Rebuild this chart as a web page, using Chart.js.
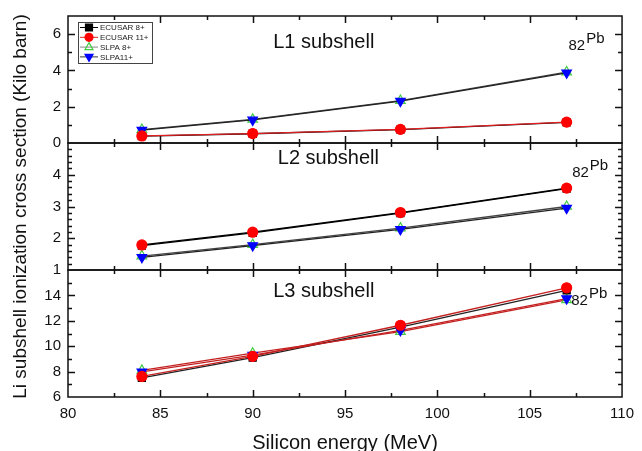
<!DOCTYPE html>
<html><head><meta charset="utf-8">
<script src="https://cdn.jsdelivr.net/npm/chart.js@4/dist/chart.umd.min.js"></script>
<style>html,body{margin:0;padding:0;background:#fff}#wrap{width:642px;height:451px}</style>
</head><body><div id="wrap"><canvas id="c" width="642" height="451"></canvas></div>
<script>
// ---------- data ----------
const energies = [84, 90, 98, 107];
const seriesNames = ['ECUSAR 8+', 'ECUSAR 11+', 'SLPA 8+', 'SLPA11+'];
const panelTitles = ['L1 subshell', 'L2 subshell', 'L3 subshell'];
const elementLabel = ['82', 'Pb'];
const xTickValues = [80, 85, 90, 95, 100, 105, 110];
const l1TickValues = [0, 2, 4, 6];
const l2TickValues = [1, 2, 3, 4];
const l3TickValues = [6, 8, 10, 12, 14];

const l1Ecusar8  = [0.38, 0.51, 0.74, 1.14];
const l1Ecusar11 = [0.39, 0.52, 0.75, 1.15];
const l1Slpa8    = [0.74, 1.30, 2.34, 3.91];
const l1Slpa11   = [0.71, 1.27, 2.31, 3.87];

const l2Ecusar8  = [1.77, 2.17, 2.79, 3.56];
const l2Ecusar11 = [1.79, 2.19, 2.81, 3.58];
const l2Slpa8    = [1.44, 1.80, 2.32, 3.00];
const l2Slpa11   = [1.40, 1.77, 2.28, 2.95];

const l3Ecusar8  = [7.50, 9.10, 11.50, 14.40];
const l3Ecusar11 = [7.62, 9.20, 11.65, 14.60];
const l3Slpa8    = [8.10, 9.45, 11.15, 13.65];
const l3Slpa11   = [7.98, 9.30, 11.25, 13.75];

// ---------- styling ----------
const FONT = "'Liberation Sans', Arial, sans-serif";
const INK = '#111';
const panels = [
  {axis: 'y1', min: 0, max: 7, ticks: l1TickValues, minor: 1, series: [l1Ecusar8, l1Ecusar11, l1Slpa8, l1Slpa11],
   lines: ['#000', '#e02020', '#444', '#222'], title: [93.85, 5.55], elem: [107.1, 5.37]},
  {axis: 'y2', min: 1, max: 5, ticks: l2TickValues, minor: 0.2, series: [l2Ecusar8, l2Ecusar11, l2Slpa8, l2Slpa11],
   lines: ['#000', '#000', '#444', '#222'], title: [94.1, 4.52], elem: [107.3, 4.05]},
  {axis: 'y3', min: 6, max: 16, ticks: l3TickValues, minor: 1, series: [l3Ecusar8, l3Ecusar11, l3Slpa8, l3Slpa11],
   lines: ['#222', '#c42020', '#c42020', '#c42020'], title: [93.85, 14.3], elem: [107.25, 13.6]}
];
const markerStyles = [
  {pointStyle: 'rect', radius: 5, bg: '#000', border: '#000', rot: 0, order: 2},
  {pointStyle: 'circle', radius: 5, bg: '#ff0000', border: '#ff0000', rot: 0, order: 0},
  {pointStyle: 'triangle', radius: 5.5, bg: 'rgba(255,255,255,0)', border: '#44cc44', rot: 0, order: 3},
  {pointStyle: 'triangle', radius: 5.5, bg: '#0000ff', border: '#0000ff', rot: 180, order: 1}
];

const datasets = [];
panels.forEach(p => {
  p.series.forEach((vals, i) => {
    const m = markerStyles[i];
    datasets.push({
      label: seriesNames[i],
      data: energies.map((x, k) => ({x: x, y: vals[k]})),
      yAxisID: p.axis,
      xAxisID: 'x',
      borderColor: p.lines[i],
      borderWidth: 1.3,
      pointStyle: m.pointStyle,
      pointRadius: m.radius,
      pointRotation: m.rot,
      pointBackgroundColor: m.bg,
      pointBorderColor: m.border,
      pointBorderWidth: 1.2,
      order: m.order,
      tension: 0,
      fill: false
    });
  });
});

function yScale(p, extra) {
  return Object.assign({
    type: 'linear', position: 'left', stack: 'panels', stackWeight: 1,
    min: p.min, max: p.max,
    afterBuildTicks: s => { s.ticks = p.ticks.map(v => ({value: v})); },
    afterFit: s => { s.width = 68; },
    grid: {display: false, drawTicks: false},
    border: {display: false},
    ticks: {padding: 7, color: INK, autoSkip: false, font: {size: 15, family: FONT}}
  }, extra || {});
}

// ---------- frame, ticks and annotations ----------
const framePlugin = {
  id: 'frame',
  beforeDatasetsDraw(chart) {
    const ctx = chart.ctx, xs = chart.scales.x, area = chart.chartArea;
    ctx.save();
    ctx.strokeStyle = INK;
    ctx.lineWidth = 1.5;
    panels.forEach(p => {
      const s = chart.scales[p.axis];
      const top = s.getPixelForValue(p.max), bottom = s.getPixelForValue(p.min);
      ctx.strokeRect(area.left, top, area.right - area.left, bottom - top);
      ctx.beginPath();
      const n = Math.round((p.max - p.min) / p.minor);
      for (let k = 1; k < n; k++) {
        const v = p.min + k * p.minor;
        const major = p.ticks.some(t => Math.abs(t - v) < 1e-6);
        const len = major ? 7 : 4;
        const y = Math.round(s.getPixelForValue(v)) + 0.5;
        ctx.moveTo(area.left, y); ctx.lineTo(area.left + len, y);
        ctx.moveTo(area.right, y); ctx.lineTo(area.right - len, y);
      }
      for (let k = 1; k < 12; k++) {
        const v = 80 + k * 2.5;
        const len = (k % 2 === 0) ? 7 : 4;
        const x = Math.round(xs.getPixelForValue(v)) + 0.5;
        ctx.moveTo(x, top); ctx.lineTo(x, top + len);
        ctx.moveTo(x, bottom); ctx.lineTo(x, bottom - len);
      }
      ctx.stroke();
    });
    ctx.restore();
  },
  afterDatasetsDraw(chart) {
    const ctx = chart.ctx, xs = chart.scales.x, area = chart.chartArea;
    ctx.save();
    ctx.fillStyle = INK;
    ctx.textBaseline = 'middle';
    panels.forEach((p, i) => {
      const s = chart.scales[p.axis];
      ctx.font = '20px ' + FONT;
      ctx.textAlign = 'center';
      ctx.fillText(panelTitles[i], xs.getPixelForValue(p.title[0]), s.getPixelForValue(p.title[1]));
      ctx.font = '15px ' + FONT;
      ctx.textAlign = 'left';
      const ex = xs.getPixelForValue(p.elem[0]), ey = s.getPixelForValue(p.elem[1]);
      ctx.fillText(elementLabel[0], ex, ey);
      const w = ctx.measureText(elementLabel[0]).width;
      ctx.fillText(elementLabel[1], ex + w + 1, ey - 7);
    });
    // legend box
    const lx = area.left + 10, ly = area.top + 6, lw = 74, lh = 41;
    ctx.fillStyle = '#fff';
    ctx.fillRect(lx, ly, lw, lh);
    ctx.strokeStyle = '#444';
    ctx.lineWidth = 1;
    ctx.strokeRect(lx + 0.5, ly + 0.5, lw, lh);
    const legendLines = ['#000', '#e02020', '#888', '#333'];
    seriesNames.forEach((name, i) => {
      const cy = ly + 5.5 + i * 9.8;
      const m = markerStyles[i];
      ctx.strokeStyle = legendLines[i];
      ctx.lineWidth = 1;
      ctx.beginPath(); ctx.moveTo(lx + 2, cy); ctx.lineTo(lx + 20, cy); ctx.stroke();
      const cx = lx + 11;
      ctx.fillStyle = m.bg; ctx.strokeStyle = m.border; ctx.lineWidth = 1.2;
      ctx.beginPath();
      if (m.pointStyle === 'rect') { ctx.rect(cx - 3.5, cy - 3.5, 7, 7); }
      else if (m.pointStyle === 'circle') { ctx.arc(cx, cy, 4, 0, Math.PI * 2); }
      else if (m.rot === 0) { ctx.moveTo(cx, cy - 4.5); ctx.lineTo(cx + 4, cy + 2.5); ctx.lineTo(cx - 4, cy + 2.5); ctx.closePath(); }
      else { ctx.moveTo(cx, cy + 4.5); ctx.lineTo(cx + 4, cy - 2.5); ctx.lineTo(cx - 4, cy - 2.5); ctx.closePath(); }
      ctx.fill(); ctx.stroke();
      ctx.fillStyle = '#222';
      ctx.font = '8px ' + FONT;
      ctx.textAlign = 'left';
      ctx.fillText(name, lx + 22, cy + 0.5);
    });
    ctx.restore();
  }
};

new Chart(document.getElementById('c'), {
  type: 'line',
  data: {datasets: datasets},
  options: {
    responsive: false, animation: false, devicePixelRatio: 1,
    layout: {padding: {left: 0, right: 14, top: 14, bottom: 0}},
    plugins: {legend: {display: false}, tooltip: {enabled: false}},
    scales: {
      x: {
        type: 'linear', position: 'bottom', min: 80, max: 110,
        afterBuildTicks: s => { s.ticks = xTickValues.map(v => ({value: v})); },
        afterFit: s => { s.height = 54; },
        grid: {display: false, drawTicks: false},
        border: {display: false},
        ticks: {padding: 8, color: INK, maxRotation: 0, autoSkip: false, font: {size: 15, family: FONT}},
        title: {display: true, text: 'Silicon energy (MeV)', color: INK, padding: 0, font: {size: 20, family: FONT, lineHeight: 0.8}}
      },
      y3: yScale(panels[2]),
      y2: yScale(panels[1], {title: {display: true, text: 'Li subshell ionization cross section (Kilo barn)', color: INK,
        padding: {top: 9, bottom: 0}, font: {size: 19, family: FONT}}}),
      y1: yScale(panels[0])
    }
  },
  plugins: [framePlugin]
});
</script>
</body></html>
